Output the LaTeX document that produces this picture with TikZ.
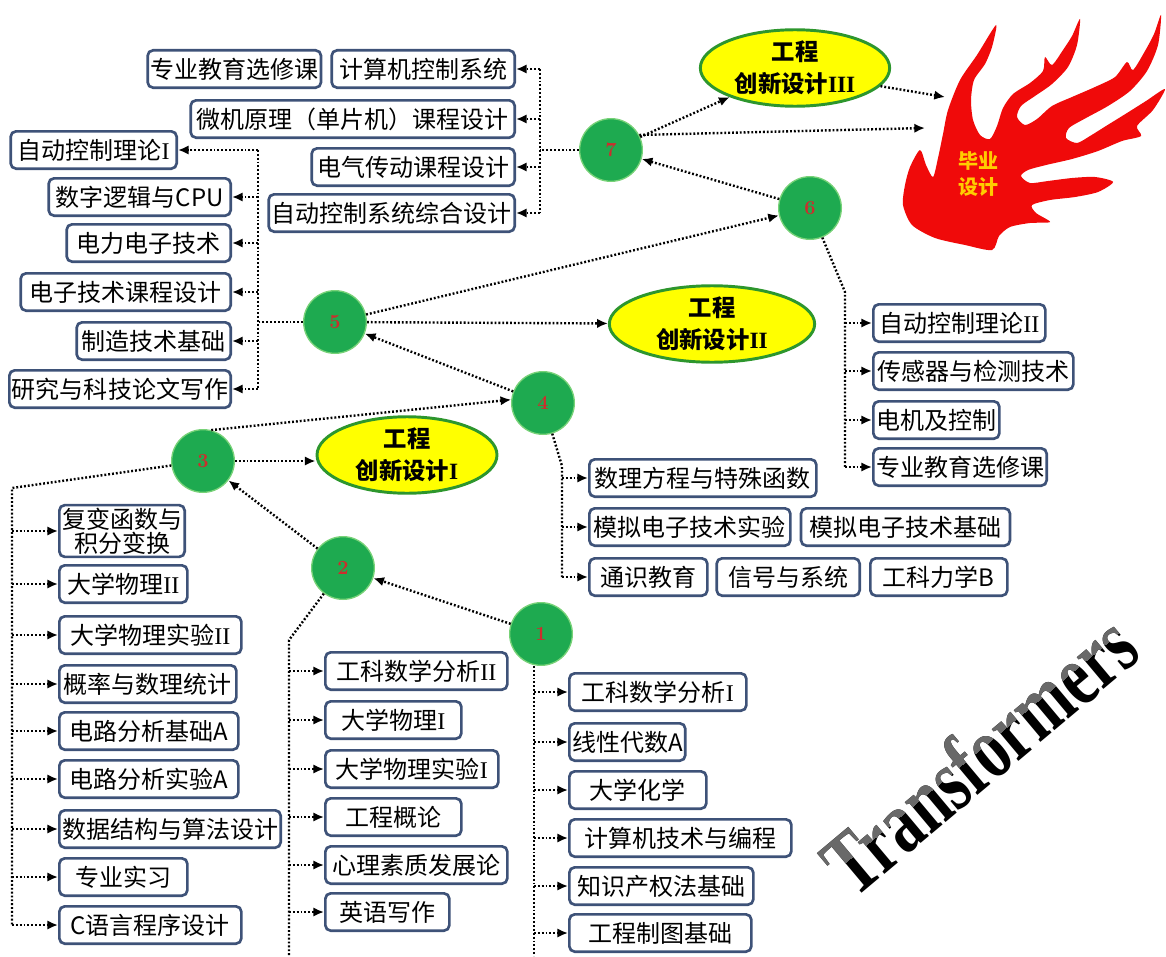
\documentclass[tikz,border=0pt]{standalone}
\usepackage{fontspec}
\usepackage{xcolor}
\usepackage{tikz}
\usetikzlibrary{arrows.meta,positioning,shapes.geometric,calc}
\newfontfamily\cjk{Noto Sans CJK SC}
\newfontfamily\romfont{Liberation Serif}
\newfontfamily\tffont{Liberation Serif}
\newcommand\rn[1]{{\romfont #1}}
\definecolor{mFrame}{RGB}{62,82,120}
\definecolor{mGreen}{RGB}{30,170,80}
\definecolor{mRim}{RGB}{120,210,120}
\definecolor{mNum}{RGB}{205,45,45}
\definecolor{mYellow}{RGB}{255,255,0}
\definecolor{mOval}{RGB}{45,150,45}
\definecolor{mFire}{RGB}{240,10,10}
\definecolor{mGold}{RGB}{255,205,0}
\definecolor{mSteel}{RGB}{105,105,105}

\begin{document}
\begin{tikzpicture}[
    x=0.75pt, y=-0.75pt,
    font=\cjk\fontsize{18}{21}\selectfont,
    course/.style={draw=mFrame, line width=2pt, rounded corners=4pt, fill=white,
      minimum height=28pt, inner xsep=2pt, inner ysep=2pt, align=center},
    stage/.style={circle, fill=mGreen, draw=mRim, line width=1pt, minimum size=47pt,
      inner sep=0pt, text=mNum, font=\bfseries\fontsize{15}{15}\selectfont},
    proj/.style={ellipse, fill=mYellow, draw=mOval, line width=2.2pt, align=center,
      inner sep=0pt, font=\cjk\bfseries\fontsize{17.5}{24}\selectfont},
    link/.style={line width=1.8pt, dash pattern=on 1.4pt off 1.5pt},
    tip/.style={link, -{Latex[length=8pt,width=7pt]}}
]
  \useasboundingbox (0,0) rectangle (1166,956);

  % stages
  \node[stage] (n1) at (541,634) {1};
  \node[stage] (n2) at (343,568) {2};
  \node[stage] (n3) at (203,461) {3};
  \node[stage] (n4) at (543,403) {4};
  \node[stage] (n5) at (335,322) {5};
  \node[stage] (n6) at (810,208) {6};
  \node[stage] (n7) at (611,150) {7};

  \node[proj, minimum width=135pt, minimum height=52pt] (e1) at (407,455) {工程\\创新设计\rn{I}};
  \node[proj, minimum width=154pt, minimum height=54pt] (e2) at (712,324) {工程\\创新设计\rn{II}};
  \node[proj, minimum width=142pt, minimum height=52pt] (e3) at (795,68) {工程\\创新设计\rn{III}};

  % flame
  \fill[mFire] plot[smooth cycle, tension=0.45] coordinates {
    (992,250) (965,245) (935,238) (912,225) (903,205) (905,185) (910,167)
    (920,150) (926,165) (933,177) (938,158) (943,134) (948,110) (960,80)
    (977,55) (996,25) (992,47) (985,64) (974,80) (971,100) (973,120)
    (980,135) (990,139) (997,126) (1003,108) (1013,94) (1030,83) (1043,71)
    (1045,57) (1052,65) (1063,50) (1072,36) (1080,19) (1077,45) (1068,67)
    (1052,84) (1035,96) (1021,106) (1017,117) (1025,125) (1037,119) (1052,106)
    (1072,97) (1095,87) (1115,77) (1127,62) (1133,70) (1145,51) (1154,34)
    (1161,15) (1158,45) (1147,71) (1130,91) (1108,106) (1086,118) (1069,128)
    (1066,138) (1077,143) (1090,136) (1106,126) (1127,113) (1146,101) (1165,89)
    (1153,110) (1137,126) (1141,136) (1122,141) (1098,151) (1072,159) (1046,165)
    (1028,170) (1021,176) (1030,183) (1048,181) (1072,178) (1095,177) (1113,182)
    (1098,192) (1075,197) (1050,200) (1032,205) (1036,213) (1050,222) (1030,223)
    (1010,227) (999,236)};
  \node[text=mGold, align=center, font=\cjk\bfseries\fontsize{15}{20}\selectfont] (grad) at (978,174) {毕业\\设计};
  \coordinate (fireA) at (925,128);
  \coordinate (fireB) at (945,97);

  % main chain
  \draw[tip] (n1) -- (n2);
  \draw[tip] (n2) -- (n3);
  \draw[tip] (n3.east) -- (n3.east -| e1.west);
  \draw[tip] (n3.75) -- (n4.174);
  \draw[tip] (n4) -- (n5);
  \draw[tip] (n5) -- (e2);
  \draw[tip] (n5) -- (n6);
  \draw[tip] (n6) -- (n7);
  \draw[tip] (n7) -- (e3);
  \draw[tip] (n7.28) -- (fireA);
  \draw[tip] (e3.-12) -- (fireB);

  % group of 7
  \foreach \n/\y/\w/\t in {1/69/183/计算机控制系统, 2/119/324/微机原理（单片机）课程设计,
      3/167/203/电气传动课程设计, 4/213/246/自动控制系统综合设计}
    \node[course, anchor=east, minimum width=\w*0.75pt] (g7\n) at (516,\y) {\t};
  \node[course, left=6pt of g71, minimum width=168*0.75pt] (g7x) {专业教育选修课};
  \coordinate (s7) at (540,150);
  \draw[link] (n7) -- (s7);
  \draw[link] (s7 |- g71.east) -- (s7 |- g74.east);
  \foreach \n in {1,...,4}
    \draw[tip] (s7 |- g7\n.east) -- (g7\n.east);

  % group of 5
  \foreach \n/\y/\x/\w/\t in {1/150/178/166/自动控制理论\rn{I}, 2/197/232/182/数字逻辑与CPU,
      3/243/232/164/电力电子技术, 4/292/232/210/电子技术课程设计,
      5/341/232/154/制造技术基础, 6/389/232/220/研究与科技论文写作}
    \node[course, anchor=east, minimum width=\w*0.75pt] (g5\n) at (\x,\y) {\t};
  \coordinate (s5) at (258,322);
  \draw[link] (n5) -- (s5);
  \draw[link] (s5 |- g51.east) -- (s5 |- g56.east);
  \foreach \n in {1,...,6}
    \draw[tip] (s5 |- g5\n.east) -- (g5\n.east);

  % group of 6
  \foreach \n/\y/\w/\t in {1/323/172/自动控制理论\rn{II}, 2/371/200/传感器与检测技术,
      3/420/126/电机及控制, 4/467/172/专业教育选修课}
    \node[course, anchor=west, minimum width=\w*0.75pt] (g6\n) at (872,\y) {\t};
  \coordinate (k6) at (845,292);
  \draw[link] (n6) -- (k6) -- (k6 |- g64.west);
  \foreach \n in {1,...,4}
    \draw[tip] (k6 |- g6\n.west) -- (g6\n.west);

  % group of 4
  \node[course, anchor=west, minimum width=227*0.75pt] (g41) at (588,478) {数理方程与特殊函数};
  \node[course, anchor=west, minimum width=201*0.75pt] (g42) at (588,527) {模拟电子技术实验};
  \node[course, right=6pt of g42, minimum width=209*0.75pt] (g42b) {模拟电子技术基础};
  \node[course, anchor=west, minimum width=118*0.75pt] (g43) at (588,577) {通识教育};
  \node[course, right=5pt of g43, minimum width=143*0.75pt] (g43b) {信号与系统};
  \node[course, right=6pt of g43b, minimum width=137*0.75pt] (g43c) {工科力学B};
  \coordinate (k4) at (562,466);
  \draw[link] (n4) -- (k4) -- (k4 |- g43.west);
  \foreach \n in {1,2,3}
    \draw[tip] (k4 |- g4\n.west) -- (g4\n.west);

  % group of 3
  \foreach \n/\y/\w/\t in {1/531/125/复变函数与\\[-3pt]积分变换, 2/584/128/大学物理\rn{II},
      3/635/182/大学物理实验\rn{II}, 4/684/177/概率与数理统计, 5/731/179/电路分析基础A,
      6/779/179/电路分析实验A, 7/829/220/数据结构与算法设计, 8/877/128/专业实习,
      9/925/182/C语言程序设计}
    \node[course, anchor=west, minimum width=\w*0.75pt] (g3\n) at (58,\y) {\t};
  \coordinate (k3) at (12,488);
  \draw[link] (n3) -- (k3) -- (k3 |- g39.west);
  \foreach \n in {1,...,9}
    \draw[tip] (k3 |- g3\n.west) -- (g3\n.west);

  % group of 2
  \foreach \n/\y/\w/\t in {1/671/182/工科数学分析\rn{II}, 2/720/136/大学物理\rn{I},
      3/769/173/大学物理实验\rn{I}, 4/817/136/工程概论, 5/865/182/心理素质发展论,
      6/912/124/英语写作}
    \node[course, anchor=west, minimum width=\w*0.75pt] (g2\n) at (324,\y) {\t};
  \coordinate (k2) at (289,640);
  \coordinate (k2end) at (289,956);
  \draw[link] (n2) -- (k2) -- (k2end);
  \foreach \n in {1,...,6}
    \draw[tip] (k2 |- g2\n.west) -- (g2\n.west);

  % group of 1
  \foreach \n/\y/\w/\t in {1/692/177/工科数学分析\rn{I}, 2/742/102/线性代数A,
      3/790/137/大学化学, 4/838/222/计算机技术与编程, 5/886/184/知识产权法基础,
      6/933/182/工程制图基础}
    \node[course, anchor=west, minimum width=\w*0.75pt] (g1\n) at (568,\y) {\t};
  \coordinate (k1end) at (534,956);
  \draw[link] (n1.south -| k1end) -- (k1end);
  \foreach \n in {1,...,6}
    \draw[tip] (k1end |- g1\n.west) -- (g1\n.west);

  % slanted title
  \begin{scope}[shift={(979,754)}, rotate=40, yscale=1.3, xscale=0.93]
    \node[transform shape, text=black, font=\tffont\bfseries\fontsize{52}{52}\selectfont] (tfdark) at (0,0) {Transformers};
    \clip (-320,-90) rectangle (320,-2);
    \node[transform shape, text=mSteel, font=\tffont\bfseries\fontsize{52}{52}\selectfont] (tflight) at (0,0) {Transformers};
  \end{scope}
\end{tikzpicture}
\end{document}
